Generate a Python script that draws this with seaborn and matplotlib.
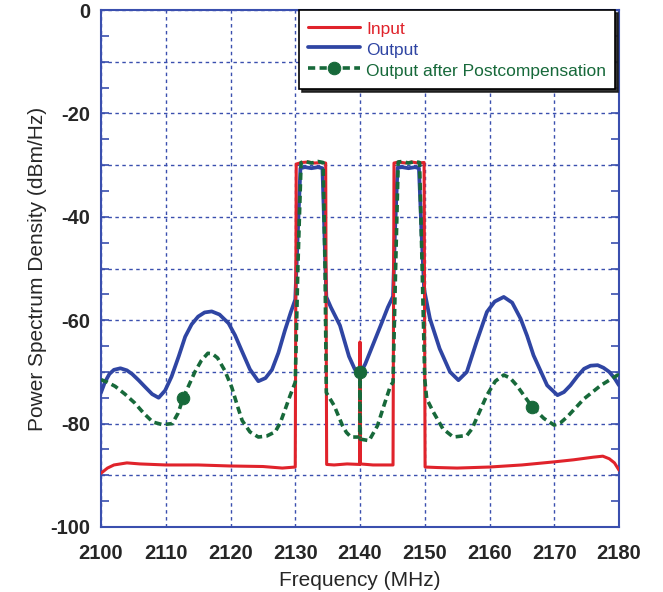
"""
Power spectrum density: input, amplifier output and output after postcompensation.
"""
import pandas as pd
import seaborn as sns
import matplotlib
from matplotlib import pyplot as plt
from matplotlib.ticker import MultipleLocator
matplotlib.use('Agg')

sns.set_style("white")
plt.rcParams['font.family'] = ['Liberation Sans', 'DejaVu Sans']

RED = '#e0232b'
BLUE = '#2f45a3'
GREEN = '#17693a'
AXCOL = '#3a4fae'

# Input (red)
freq_in = [2100, 2101, 2102, 2104, 2106, 2110, 2115, 2120, 2125, 2128, 2130.0,
           2130.15, 2131, 2132, 2133, 2134, 2134.7, 2134.85, 2136, 2138, 2139.95,
           2140, 2140.05, 2142, 2144, 2145.1, 2145.25, 2146, 2147, 2148, 2149,
           2149.9, 2150.05, 2152, 2155, 2160, 2165, 2170, 2173, 2176, 2177.5,
           2178.5, 2179.3, 2180]
psd_in = [-89.6, -88.6, -88, -87.6, -87.8, -88, -88, -88.2, -88.3, -88.6, -88.4,
          -29.8, -29.5, -29.4, -29.6, -29.5, -29.6, -87.9, -88, -87.8, -87.9,
          -64.2, -87.8, -88, -88, -88, -29.6, -29.4, -29.6, -29.4, -29.6,
          -29.5, -88.4, -88.5, -88.6, -88.4, -88, -87.4, -87, -86.5, -86.3,
          -86.8, -87.6, -89]

# Output (blue)
freq_out = [2100, 2100.6, 2101.3, 2102, 2103, 2104, 2104.8, 2105.8, 2106.8, 2107.9,
            2108.9, 2109.9, 2110.9, 2112, 2113, 2114, 2115, 2116, 2117.1, 2118.3,
            2119.7, 2120.7, 2121.7, 2123, 2124.3, 2125.4, 2126.4, 2127.4, 2128.4,
            2129.3, 2130, 2130.4, 2130.8, 2131.5, 2132.5, 2133.5, 2134.2, 2134.5,
            2134.8, 2135.5, 2136.9, 2138.3, 2139.2, 2140, 2140.8, 2141.6, 2143.2,
            2144.3, 2145.1, 2145.4, 2145.8, 2146.5, 2147.5, 2148.5, 2149.1, 2149.5,
            2149.9, 2150.8, 2152.3, 2153.9, 2155.2, 2156.5, 2158, 2159.6, 2160.8,
            2162.2, 2163.5, 2164.8, 2165.8, 2166.8, 2168.9, 2170.5, 2171.5, 2172.5,
            2173.6, 2174.6, 2175.6, 2176.7, 2177.6, 2178.5, 2179.3, 2180]
psd_out = [-74, -72, -70.4, -69.6, -69.3, -69.7, -70.4, -71.6, -72.9, -74.3,
           -75, -73.6, -70.9, -67, -63.2, -60.8, -59.3, -58.5, -58.3, -58.9,
           -60.6, -62.9, -65.8, -69.5, -71.8, -71.2, -69.6, -66.3, -62,
           -58.5, -56, -43, -30.6, -30.4, -30.6, -30.4, -30.6, -43,
           -55.5, -57.5, -61, -67, -69.5, -70.4, -68.5, -66, -61,
           -57.5, -55.4, -43, -30.5, -30.4, -30.6, -30.4, -30.6, -43,
           -54, -59.7, -65.5, -70, -71.6, -70, -64.2, -58.4, -56.4,
           -55.5, -56.6, -59.7, -63, -66.8, -72.6, -74.5, -73.9, -72.6,
           -70.8, -69.4, -68.8, -68.7, -69.2, -70, -71.2, -72.6]

# Output after postcompensation (green)
freq_post = [2100, 2101, 2102.2, 2103.7, 2105.2, 2106.6, 2108, 2109.5, 2111, 2111.9,
             2112.7, 2113.6, 2114.5, 2115.5, 2116.5, 2117.2, 2118, 2119.1, 2120.2,
             2121, 2121.8, 2123, 2124.3, 2125.6, 2126.9, 2127.7, 2128.4, 2129.2,
             2130, 2130.4, 2130.9, 2131.5, 2132.5, 2133.5, 2134.3, 2134.6, 2134.8,
             2136, 2137.3, 2137.9, 2138.6, 2139.95, 2140, 2140.05, 2141.4, 2142.7,
             2143.7, 2144.7, 2145.1, 2145.5, 2145.9, 2146.5, 2147.5, 2148.5, 2149.2,
             2149.6, 2150, 2150.3, 2151.3, 2152.8, 2154.4, 2156.5, 2157.3, 2158,
             2159.6, 2160.9, 2162.2, 2163.2, 2164.2, 2165.4, 2166.6, 2168.4, 2170,
             2171, 2172, 2174.6, 2177.2, 2179.8, 2180]
psd_post = [-71.5, -72, -72.8, -74.3, -76, -78, -79.7, -80.2, -80, -78,
            -75, -72.5, -70, -67.8, -66.4, -66.5, -67.3, -69.7, -73,
            -76.3, -79.4, -81.6, -82.6, -82.4, -81.6, -79.8, -77.4, -74.6,
            -72, -50, -29.5, -29.3, -29.6, -29.3, -29.5, -50, -74,
            -76.5, -80.4, -81.7, -82.6, -82.6, -70, -83, -83.3, -80.4,
            -76.5, -72.7, -72, -50, -29.4, -29.3, -29.6, -29.3, -29.5,
            -50, -71.4, -75.2, -77.7, -81, -82.6, -82.3, -81, -79,
            -74.5, -71.8, -70.6, -71.2, -72.6, -74.7, -76.8, -79, -80.3,
            -79.8, -78.7, -75.2, -72.6, -70.6, -70.8]
marker_freqs = [2112.7, 2140, 2166.6]

xticks = list(range(2100, 2181, 10))
yticks = list(range(-100, 1, 10))
ytick_labels = ['%d' % v if v % 20 == 0 else '' for v in yticks]

fig = plt.figure(figsize=(6.63, 5.92), dpi=100)
ax = fig.add_axes([101 / 663, 1 - 527 / 592, 518 / 663, 517 / 592])

sns.lineplot(x=freq_out, y=psd_out, ax=ax, color=BLUE, lw=2.7, estimator=None,
             sort=False, label='Output', zorder=3)
sns.lineplot(x=freq_in, y=psd_in, ax=ax, color=RED, lw=2.2, estimator=None,
             sort=False, label='Input', zorder=4)
mark_idx = [freq_post.index(f) for f in marker_freqs]
sns.lineplot(x=freq_post, y=psd_post, ax=ax, color=GREEN, lw=2.6, estimator=None,
             sort=False, label='Output after Postcompensation', zorder=5,
             dashes=False, marker='o', markersize=9, markevery=mark_idx,
             markeredgecolor=GREEN)
ax.lines[-1].set_dashes((2.0, 1.2))

ax.set_xlim(2100, 2180)
ax.set_ylim(-100, 0)
ax.set_xticks(xticks)
ax.set_xticklabels([str(v) for v in xticks], fontsize=14.5, fontweight='bold')
ax.set_yticks(yticks)
ax.set_yticklabels(ytick_labels, fontsize=14.5, fontweight='bold')
ax.yaxis.set_minor_locator(MultipleLocator(5))
ax.tick_params(axis='y', which='both', direction='in', left=True, right=True,
               color=AXCOL, length=6, width=1.2, pad=8)
ax.tick_params(axis='x', length=0, pad=12)
ax.grid(True, which='major', color=AXCOL, ls=(0, (2.5, 2.5)), lw=1.0)
for sp in ax.spines.values():
    sp.set_color(AXCOL)
    sp.set_linewidth(1.5)
    sp.set_visible(True)

ax.set_xlabel('Frequency (MHz)', fontsize=15, labelpad=6)
ax.set_ylabel('Power Spectrum Density (dBm/Hz)', fontsize=15, labelpad=2)

handles, labels = ax.get_legend_handles_labels()
order = [labels.index(l) for l in ['Input', 'Output', 'Output after Postcompensation']]
leg = ax.legend([handles[i] for i in order], [labels[i] for i in order],
                loc='upper right', bbox_to_anchor=(0.992, 1.0), borderaxespad=0,
                fontsize=12.5, frameon=True, fancybox=False,
                shadow={'color': '#1a1a1a', 'alpha': 0.9},
                edgecolor='black', framealpha=1, labelcolor='linecolor',
                borderpad=0.5, labelspacing=0.05, handleheight=1.4,
                handlelength=3.0, handletextpad=0.35)
leg.get_frame().set_linewidth(1.2)

fig.savefig('out.png', dpi=100)
